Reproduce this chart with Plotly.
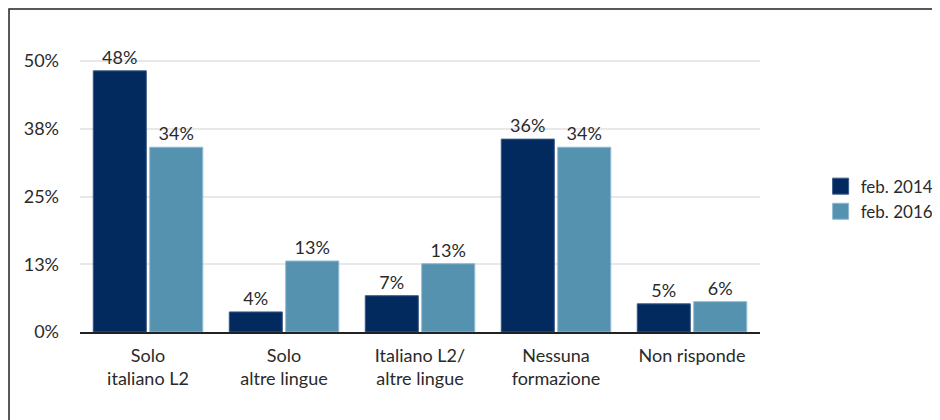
import plotly.graph_objects as go

# ── Data ────────────────────────────────────────────────────────
categories = [
    "Solo<br>italiano L2",
    "Solo<br>altre lingue",
    "Italiano L2/<br>altre lingue",
    "Nessuna<br>formazione",
    "Non risponde",
]
series_names = ["feb. 2014", "feb. 2016"]
feb_2014 = [48.2, 3.7, 6.7, 35.6, 5.2]
feb_2016 = [34.1, 13.1, 12.6, 34.1, 5.6]
tick_vals = [0, 12.5, 25, 37.5, 50]
tick_text = ["0%", "13%", "25%", "38%", "50%"]

FONT = "Lato"
FONT_SIZE = 18
TEXT_COLOR = "#2a2a2a"
COLORS = ["#022a5e", "#5592b0"]
EDGES = ["#3a5a88", "#8fbad0"]

fig = go.Figure()
for name, vals, color, edge in zip(series_names, [feb_2014, feb_2016], COLORS, EDGES):
    fig.add_trace(go.Bar(
        name=name,
        x=categories,
        y=vals,
        marker=dict(color=color, line=dict(color=edge, width=1)),
        texttemplate="%{y:.0f}%",
        textposition="outside",
        textfont=dict(size=FONT_SIZE, color=TEXT_COLOR),
        cliponaxis=False,
        showlegend=False,
    ))
    # legend-only square swatch (bigger than plotly's default bar swatch)
    fig.add_trace(go.Scatter(
        name=name,
        x=[None],
        y=[None],
        mode="markers",
        marker=dict(symbol="square", size=19, color=color,
                    line=dict(color=edge, width=1)),
    ))

fig.update_layout(
    width=940,
    height=420,
    barmode="group",
    bargap=0.17,
    bargroupgap=0.06,
    plot_bgcolor="white",
    paper_bgcolor="white",
    font=dict(family=FONT, size=FONT_SIZE, color=TEXT_COLOR),
    margin=dict(l=72, r=188, t=26, b=96),
    xaxis=dict(
        showline=True,
        linecolor="#222222",
        linewidth=2,
        ticks="",
        ticklabelstandoff=6,
        tickfont=dict(size=FONT_SIZE),
    ),
    yaxis=dict(
        range=[0, 55],
        tickvals=tick_vals,
        ticktext=tick_text,
        showgrid=True,
        gridcolor="#e8e8e8",
        gridwidth=2,
        zeroline=False,
        ticklabelstandoff=20,
        tickfont=dict(size=FONT_SIZE),
    ),
    legend=dict(
        xref="container",
        yref="container",
        x=0.8645,
        y=0.545,
        xanchor="left",
        yanchor="middle",
        font=dict(size=17),
        tracegroupgap=0,
        itemsizing="trace",
    ),
    shapes=[dict(
        type="rect",
        xref="paper",
        yref="paper",
        x0=-0.1044,
        x1=1.4,
        y0=-0.6,
        y1=1.084,
        line=dict(color="#222222", width=1.5),
        layer="below",
    )],
)

fig.write_html("out.html")
